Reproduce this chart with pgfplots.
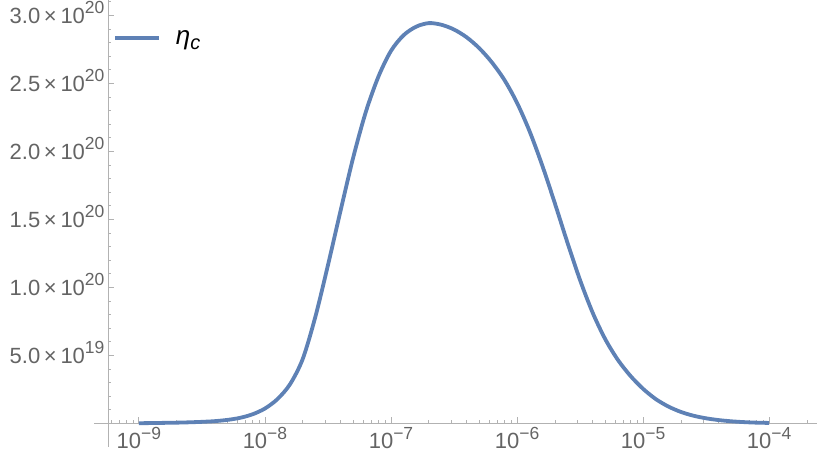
\documentclass[border=0pt]{standalone}
\usepackage{pgfplots}
\pgfplotsset{compat=1.18}
\usepackage{fontspec}
\setmainfont{Liberation Sans}

\definecolor{curve}{RGB}{94,129,181}
\definecolor{axisgray}{RGB}{178,178,178}
\definecolor{labgray}{RGB}{100,100,100}

% superscript as Mathematica draws it: large and high
\newcommand{\sps}[1]{\raisebox{9.5pt}{\fontsize{17.5}{18}\selectfont #1}}
\newcommand{\sci}[2]{#1\,×\,10\sps{#2}}

\pgfplotstableread{
x          y
1.0000e-9  2e17
1.2589e-9  3e17
1.5849e-9  4.5e17
1.9953e-9  6e17
2.5119e-9  8.5e17
3.1623e-9  1.2e18
3.9811e-9  1.7e18
5.0119e-9  2.6e18
6.3096e-9  4.1e18
7.9433e-9  6.7e18
1.0000e-8  1.10e19
1.2589e-8  1.80e19
1.5849e-8  2.90e19
1.9953e-8  4.75e19
2.5119e-8  7.85e19
3.1623e-8  1.165e20
3.9811e-8  1.565e20
5.0119e-8  1.955e20
6.3096e-8  2.290e20
7.9433e-8  2.550e20
1.0000e-7  2.740e20
1.2589e-7  2.855e20
1.5849e-7  2.918e20
1.9953e-7  2.944e20
2.5119e-7  2.932e20
3.1623e-7  2.897e20
3.9811e-7  2.840e20
5.0119e-7  2.760e20
6.3096e-7  2.656e20
7.9433e-7  2.526e20
1.0000e-6  2.358e20
1.2589e-6  2.148e20
1.5849e-6  1.898e20
1.9953e-6  1.620e20
2.5119e-6  1.330e20
3.1623e-6  1.055e20
3.9811e-6  8.15e19
5.0119e-6  6.20e19
6.3096e-6  4.68e19
7.9433e-6  3.50e19
1.0000e-5  2.55e19
1.2589e-5  1.80e19
1.5849e-5  1.25e19
1.9953e-5  8.5e18
2.5119e-5  5.7e18
3.1623e-5  3.8e18
3.9811e-5  2.5e18
5.0119e-5  1.6e18
6.3096e-5  1.0e18
7.9433e-5  6e17
1.0000e-4  4e17
}\etadata

\begin{document}
\begin{tikzpicture}
\begin{axis}[
  scale only axis,
  width=709pt, height=447pt,
  xmode=log,
  xmin=5.68e-10, xmax=2.4e-4,
  ymin=-1.73e19, ymax=3.114e20,
  axis x line=middle, axis y line=left,
  axis line style={draw=axisgray, line width=0.9pt, -},
  tick style={draw=axisgray, line width=0.9pt},
  tick align=inside,
  major tick length=6pt, minor tick length=3.5pt,
  scaled y ticks=false,
  xtick={1e-9,1e-8,1e-7,1e-6,1e-5,1e-4},
  xticklabels={10\sps{−9},10\sps{−8},10\sps{−7},10\sps{−6},10\sps{−5},10\sps{−4}},
  minor xtick={6e-10,7e-10,8e-10,9e-10,
    2e-9,3e-9,4e-9,5e-9,6e-9,7e-9,8e-9,9e-9,
    2e-8,3e-8,4e-8,5e-8,6e-8,7e-8,8e-8,9e-8,
    2e-7,3e-7,4e-7,5e-7,6e-7,7e-7,8e-7,9e-7,
    2e-6,3e-6,4e-6,5e-6,6e-6,7e-6,8e-6,9e-6,
    2e-5,3e-5,4e-5,5e-5,6e-5,7e-5,8e-5,9e-5,2e-4},
  ytick={5e19,1e20,1.5e20,2e20,2.5e20,3e20},
  yticklabels={\sci{5.0}{19},\sci{1.0}{20},\sci{1.5}{20},\sci{2.0}{20},\sci{2.5}{20},\sci{3.0}{20}},
  minor ytick={1e19,2e19,3e19,4e19,6e19,7e19,8e19,9e19,
    1.1e20,1.2e20,1.3e20,1.4e20,1.6e20,1.7e20,1.8e20,1.9e20,
    2.1e20,2.2e20,2.3e20,2.4e20,2.6e20,2.7e20,2.8e20,2.9e20,3.1e20},
  ticklabel style={font=\fontsize{22}{24}\selectfont, text=labgray},
  yticklabel style={anchor=base east, yshift=-7.8pt},
  clip=false,
  legend style={at={(rel axis cs:0.00705,0.9155)}, anchor=west,
    draw=none, fill=none, inner sep=0pt, column sep=17pt,
    nodes={inner sep=0pt}},
  legend image code/.code={\draw[#1] (0pt,0pt) -- (44pt,0pt);},
]
\addplot[curve, line width=3.8pt, smooth] table {\etadata};
\addlegendentry{\hspace{-2pt}\fontsize{26}{27}\selectfont\itshape η\raisebox{-5.5pt}{\fontsize{20}{20}\selectfont c}}
\draw[axisgray, line width=0.9pt] (axis cs:4.40e-10,0) -- (axis cs:5.68e-10,0);
\coordinate (tl) at (rel axis cs:0,1);
\coordinate (br) at (rel axis cs:1,0);
\end{axis}
\pgfresetboundingbox
\path[use as bounding box] ([xshift=-108pt]tl) rectangle ([yshift=-19pt]br);
\end{tikzpicture}
\end{document}
